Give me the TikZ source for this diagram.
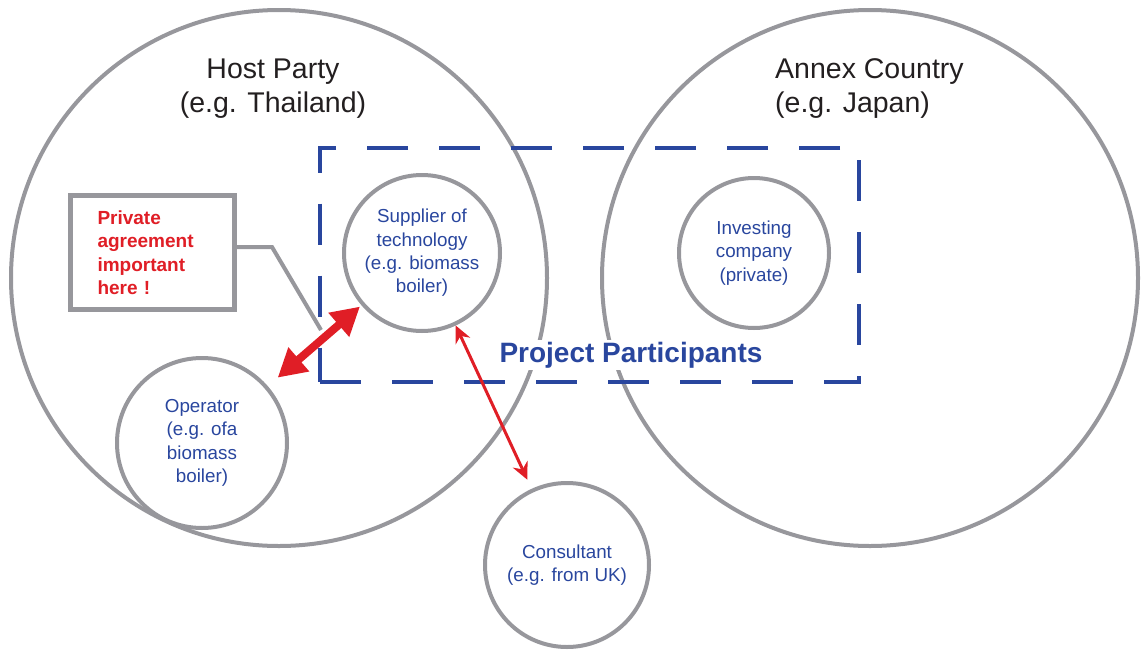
\documentclass[tikz,border=0pt]{standalone}
\usepackage{fontspec}
\setmainfont{Liberation Sans}
\usetikzlibrary{arrows.meta}
\definecolor{ringgray}{RGB}{151, 151, 156}
\definecolor{ppblue}{RGB}{41, 70, 158}
\definecolor{notered}{RGB}{224, 30, 38}
\definecolor{titleink}{RGB}{35, 31, 32}

\begin{document}
\begin{tikzpicture}[x=1pt, y=-1pt,
  country/.style={circle, draw=ringgray, line width=4pt, minimum size=536pt, inner sep=0pt},
  actor/.style={circle, draw=ringgray, line width=4pt, inner sep=0pt, align=center, text=ppblue, font=\fontsize{18.8}{23.3}\selectfont},
  ctitle/.style={inner sep=0pt, text=titleink, font=\fontsize{28.5}{34}\selectfont},
  ppbox/.style={draw=ppblue, line width=4pt, dash pattern=on 41pt off 31pt, minimum width=539pt, minimum height=234pt},
  notebox/.style={draw=ringgray, fill=white, line width=5pt, minimum width=164pt, minimum height=114pt, text width=110pt, align=left, text=notered, font=\fontsize{19}{23.5}\selectfont\bfseries},
  callout/.style={draw=ringgray, line width=4pt},
  bigarrow/.style={notered, line width=8pt, {Triangle[length=28pt,width=30pt]}-{Triangle[length=28pt,width=30pt]}},
  thinarrow/.style={notered, line width=3pt, {Stealth[length=17pt,width=16pt]}-{Stealth[length=17pt,width=16pt]}}
]
  \useasboundingbox (0,0) rectangle (1144,651);

  \node[country] (host) at (279, 278) {};
  \node[country] (annex) at (870, 278) {};

  \node[ctitle, align=center] (hosttitle) at (273, 89) {Host Party\\(e.g. Thailand)};
  \node[ctitle, align=left, anchor=west] (annextitle) at (775, 89) {Annex Country\\(e.g. Japan)};

  \node[ppbox] (pp) at (589.5, 264.5) {};

  \node[actor, minimum size=156pt] (supp) at (422, 253) {Supplier of\\technology\\(e.g. biomass\\boiler)};
  \node[actor, minimum size=150pt] (invest) at (754, 253) {Investing\\company\\(private)};
  \node[actor, minimum size=170pt] (oper) at (202, 443) {Operator\\(e.g. ofa\\biomass\\boiler)};
  \node[actor, minimum size=164pt] (consult) at (567, 565) {Consultant\\(e.g. from UK)};

  \node[fill=white, inner sep=2pt, text=ppblue, font=\fontsize{28}{34}\selectfont\bfseries] (pplabel) at (631, 355) {Project Participants};

  \node[notebox] (note) at (152.5, 252.5) {Private\\agreement\\important\\here !};
  \coordinate (bend) at (272, 247);
  \coordinate (notetip) at (321, 330);
  \draw[callout] (note.east |- bend) -- (bend) -- (notetip);

  \draw[bigarrow, shorten <=13pt, shorten >=2pt] (oper) -- (supp);
  \draw[thinarrow, shorten >=10pt] (supp) -- (consult);
\end{tikzpicture}
\end{document}
